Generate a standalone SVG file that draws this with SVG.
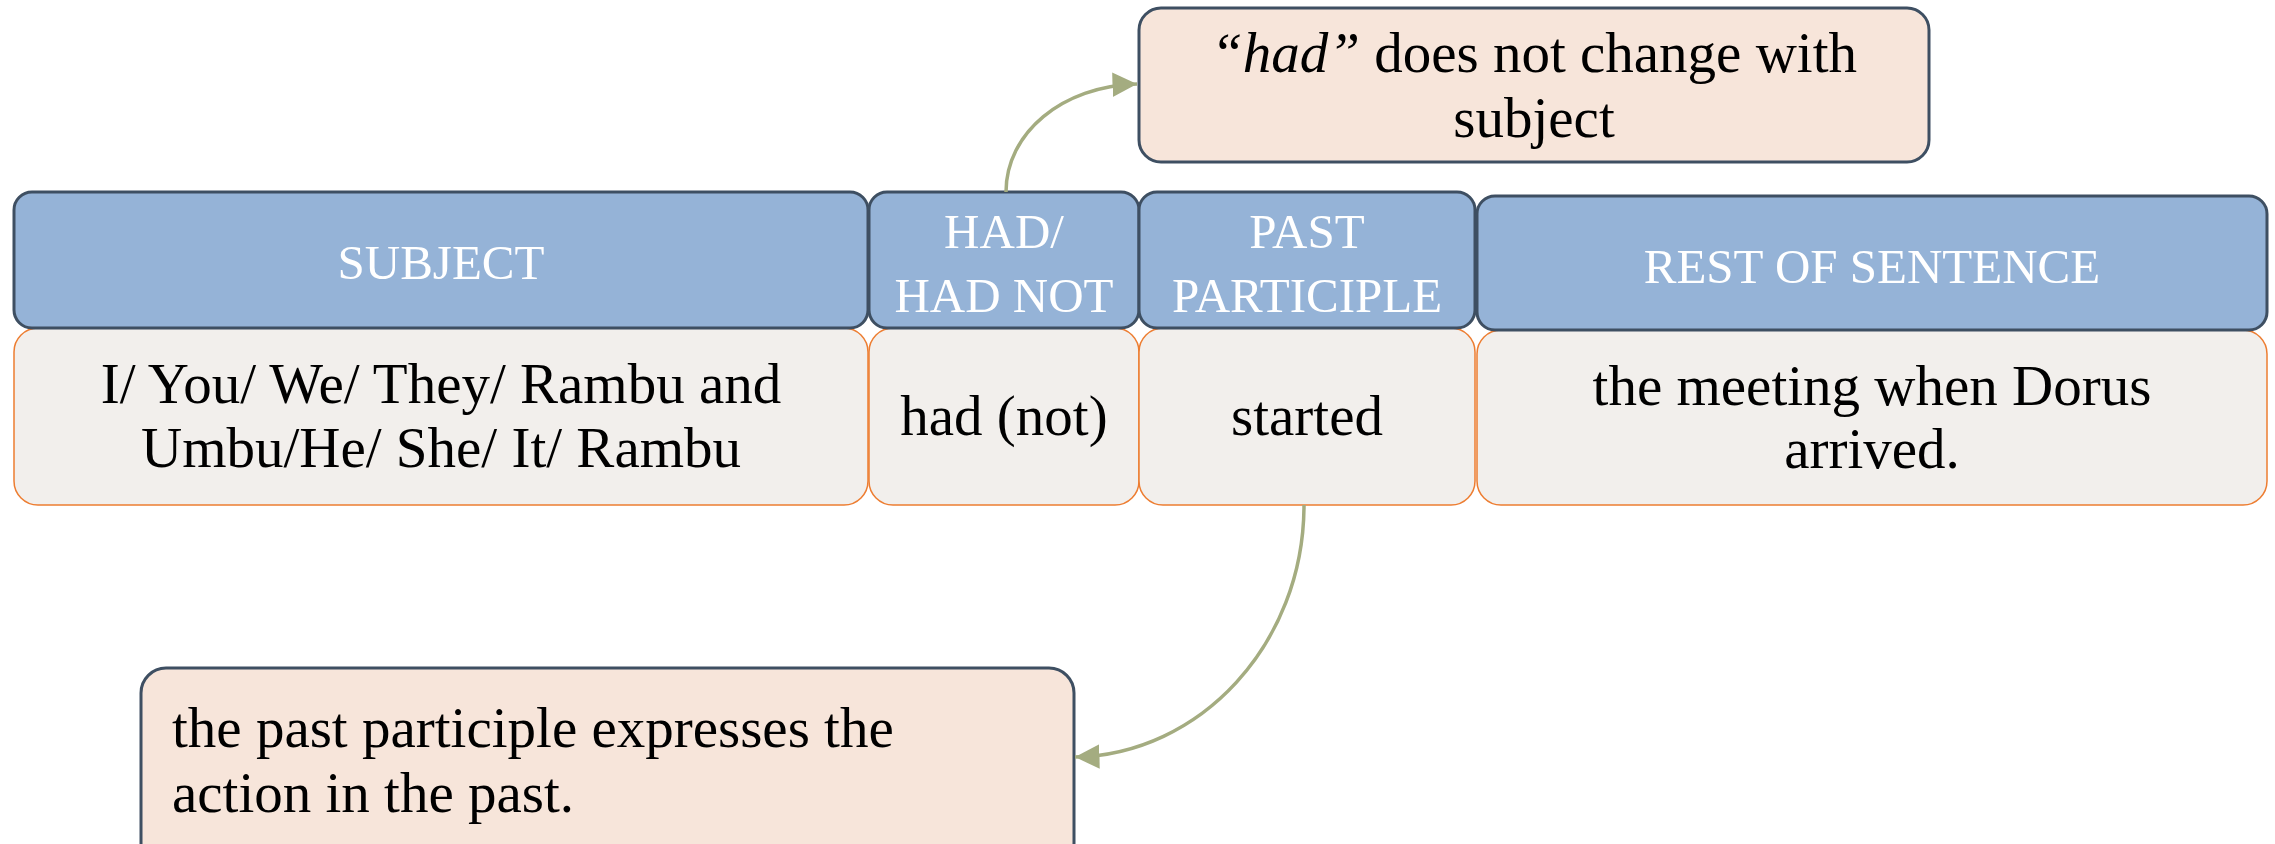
<svg xmlns="http://www.w3.org/2000/svg" width="2275" height="844" viewBox="0 0 2275 844">
<defs>
<style>
.hdr{fill:#95B3D7;stroke:#3E4F62;stroke-width:3}
.body{fill:#F2EFEC;stroke:#ED7D31;stroke-width:1.5}
.call{fill:#F7E5DA;stroke:#3E4F62;stroke-width:3}
.ht{font-family:"Liberation Serif",serif;font-size:49px;fill:#FFFFFF;text-anchor:middle}
.bt{font-family:"Liberation Serif",serif;font-size:57px;fill:#000000;text-anchor:middle}
.ct{font-family:"Liberation Serif",serif;font-size:57px;fill:#000000}
.conn{fill:none;stroke:#A4AC80;stroke-width:3.5}
</style>
<marker id="arr" viewBox="0 0 10 10" refX="10" refY="5" markerWidth="7" markerHeight="7" markerUnits="strokeWidth" orient="auto">
<path d="M0,0 L10,5 L0,10 z" fill="#A4AC80"/>
</marker>
</defs>
<rect width="2275" height="844" fill="#FFFFFF"/>

<g id="body-subject">
<rect class="body" x="14" y="328" width="854" height="177" rx="24"/>
<text class="bt" x="441" y="403">I/ You/ We/ They/ Rambu and</text>
<text class="bt" x="441" y="467">Umbu/He/ She/ It/ Rambu</text>
</g>
<g id="body-had">
<rect class="body" x="869" y="328" width="270" height="177" rx="24"/>
<text class="bt" x="1004" y="435">had (not)</text>
</g>
<g id="body-past">
<rect class="body" x="1139" y="328" width="336" height="177" rx="24"/>
<text class="bt" x="1307" y="435">started</text>
</g>
<g id="body-rest">
<rect class="body" x="1477" y="330" width="790" height="175" rx="24"/>
<text class="bt" x="1872" y="405">the meeting when Dorus</text>
<text class="bt" x="1872" y="468">arrived.</text>
</g>

<g id="hdr-subject">
<rect class="hdr" x="14" y="192" width="854" height="136" rx="18"/>
<text class="ht" x="441" y="279">SUBJECT</text>
</g>
<g id="hdr-had">
<rect class="hdr" x="869" y="192" width="270" height="136" rx="18"/>
<text class="ht" x="1004" y="248">HAD/</text>
<text class="ht" x="1004" y="312">HAD NOT</text>
</g>
<g id="hdr-past">
<rect class="hdr" x="1139" y="192" width="336" height="136" rx="18"/>
<text class="ht" x="1307" y="248">PAST</text>
<text class="ht" x="1307" y="312">PARTICIPLE</text>
</g>
<g id="hdr-rest">
<rect class="hdr" x="1477" y="196" width="790" height="134" rx="18"/>
<text class="ht" x="1872" y="283">REST OF SENTENCE</text>
</g>

<g id="note-had">
<rect class="call" x="1139" y="8" width="790" height="154" rx="22"/>
<text class="ct" x="1534" y="72" text-anchor="middle"><tspan font-style="italic">“had”</tspan> does not change with</text>
<text class="ct" x="1534" y="137" text-anchor="middle">subject</text>
</g>
<g id="note-participle">
<rect class="call" x="141" y="668" width="933" height="200" rx="25"/>
<text class="ct" x="172" y="747">the past participle expresses the</text>
<text class="ct" x="172" y="812">action in the past.</text>
</g>

<g id="connectors">
<path class="conn" d="M1006,192 C1006,133 1062,86 1137,84" marker-end="url(#arr)"/>
<path class="conn" d="M1304,505 C1304,644 1200,755 1075,757" marker-end="url(#arr)"/>
</g>
</svg>
